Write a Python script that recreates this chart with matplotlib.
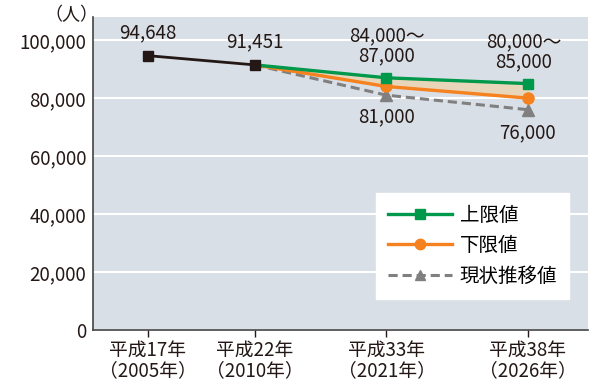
import matplotlib
matplotlib.use("Agg")
import matplotlib.pyplot as plt
from matplotlib.lines import Line2D
from matplotlib.ticker import FuncFormatter

plt.rcParams["font.family"] = ["Noto Sans CJK JP", "DejaVu Sans"]

# data
periods = ["平成17年\n（2005年）", "平成22年\n（2010年）", "平成33年\n（2021年）", "平成38年\n（2026年）"]
actual = [94648, 91451]
upper = [91451, 87000, 85000]
lower = [91451, 84000, 80000]
trend = [91451, 81000, 76000]
range_labels = ["84,000〜\n87,000", "80,000〜\n85,000"]
series_names = ["上限値", "下限値", "現状推移値"]

# horizontal placement of the periods (not evenly spaced)
xpos = [0, 1, 2.23, 3.55]

fig = plt.figure(figsize=(5.89, 3.85), dpi=100)
ax = fig.add_axes([0.158, 0.143, 0.84, 0.813])
ax.set_facecolor("#d9dfe6")

green = "#00984a"
orange = "#f5821f"
gray = "#808080"
black = "#231815"
dash = (0, (3, 1.6))

xf = xpos[1:]
ax.fill_between(xf, lower, upper, color="#e8d6bb", zorder=2)
ax.plot(xf, trend, color=gray, lw=2.2, ls=dash, marker="^", ms=8,
        markevery=[1, 2], zorder=3)
ax.plot(xf, lower, color=orange, lw=2.4, marker="o", ms=8,
        markevery=[1, 2], zorder=4)
ax.plot(xf, upper, color=green, lw=2.4, marker="s", ms=7.5,
        markevery=[1, 2], zorder=5)
ax.plot(xpos[:2], actual, color=black, lw=2, marker="s", ms=7.5, zorder=6)

fs = 13.5
ax.annotate(f"{actual[0]:,}", (xpos[0], actual[0]), xytext=(0, 9),
            textcoords="offset points", ha="center", va="bottom", fontsize=fs, color=black)
ax.annotate(f"{actual[1]:,}", (xpos[1], actual[1]), xytext=(0, 9),
            textcoords="offset points", ha="center", va="bottom", fontsize=fs, color=black)
ax.annotate(range_labels[0], (xpos[2], upper[1]), xytext=(0, 8),
            textcoords="offset points", ha="center", va="bottom", fontsize=fs,
            color=black, linespacing=0.95)
ax.annotate(range_labels[1], (xpos[3], upper[2]), xytext=(-3, 8),
            textcoords="offset points", ha="center", va="bottom", fontsize=fs,
            color=black, linespacing=0.95)
ax.annotate(f"{trend[1]:,}", (xpos[2], trend[1]), xytext=(0, -8),
            textcoords="offset points", ha="center", va="top", fontsize=fs, color=black)
ax.annotate(f"{trend[2]:,}", (xpos[3], trend[2]), xytext=(0, -9),
            textcoords="offset points", ha="center", va="top", fontsize=fs, color=black)

ax.set_xlim(-0.51, 4.11)
ax.set_ylim(0, 108000)
ax.set_yticks(range(0, 100001, 20000))
ax.yaxis.set_major_formatter(FuncFormatter(lambda v, p: f"{int(v):,}"))
ax.set_xticks(xpos)
ax.set_xticklabels(periods, fontsize=13.5, linespacing=1.0)
ax.tick_params(axis="y", length=0, labelsize=13.5, pad=5, colors=black)
ax.tick_params(axis="x", length=5, width=1, pad=2, colors=black)
ax.grid(axis="y", color="white", lw=1.5, zorder=1)
ax.set_axisbelow(True)
for side in ["top", "right"]:
    ax.spines[side].set_visible(False)
for side in ["left", "bottom"]:
    ax.spines[side].set_color("#444444")
    ax.spines[side].set_linewidth(1.2)

fig.text(0.122, 0.962, "（人）", ha="center", va="center", fontsize=13, color=black)

# legend keys with a single marker in the middle of each line
keys = [
    Line2D([], [], color=green, lw=2.4, marker="s", ms=7),
    Line2D([], [], color=orange, lw=2.4, marker="o", ms=7.5),
    Line2D([], [], color=gray, lw=2.2, ls=dash, marker="^", ms=7.5),
]
ax.legend(keys, series_names, loc="lower right", bbox_to_anchor=(0.962, 0.1),
          frameon=True, fancybox=False, edgecolor="white", facecolor="white",
          framealpha=1, fontsize=14, numpoints=1, handlelength=3.3,
          handletextpad=0.4, borderpad=0.6, labelspacing=0.5, borderaxespad=0)

fig.savefig("out.png", dpi=100)
